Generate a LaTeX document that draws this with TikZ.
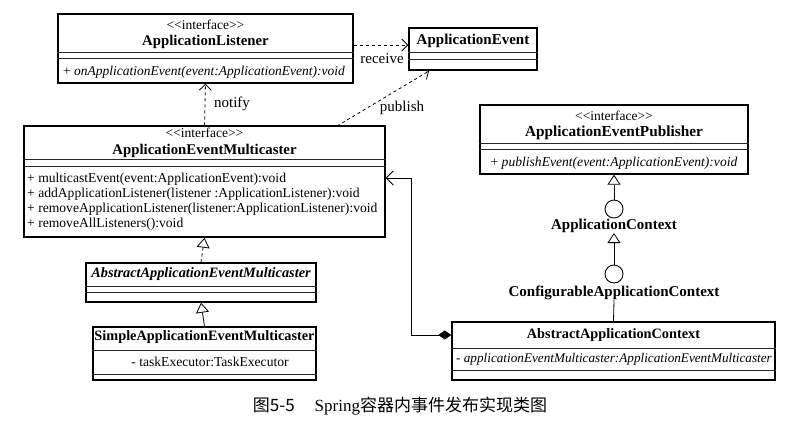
\documentclass[tikz,border=0pt]{standalone}
\usepackage{fontspec}
\setmainfont{Liberation Serif}
\newfontfamily\cjk{Noto Sans CJK SC}
\usetikzlibrary{arrows.meta, calc}
\colorlet{line-color}{black!85}
\newcommand{\stereotype}{<\kern0pt<interface>\kern0pt>}
\tikzset{
    umlbox/.style = {draw, line width=1.4pt, inner sep=0pt},
    sep/.style = {line width=0.8pt, line-color},
    stereo/.style = {inner sep=0pt, font=\fontsize{13.5}{14}\selectfont},
    clsname/.style = {inner sep=0pt, font=\fontsize{#1}{#1}\selectfont\bfseries},
    clsname/.default = 14.3,
    member/.style = {inner sep=0pt, anchor=west, font=\fontsize{#1}{#1}\selectfont},
    member/.default = 13.6,
    lbl/.style = {inner sep=0pt, font=\fontsize{15}{16}\selectfont},
    depend/.style = {line width=0.8pt, dashed, -{Straight Barb[length=6pt,width=12pt]}},
    realize/.style = {line width=0.8pt, dashed, -{Triangle[open,fill=white,length=10pt,width=13pt]}},
    extend/.style = {line width=0.8pt, -{Triangle[open,fill=white,length=10pt,width=13pt]}},
    compose/.style = {line width=0.8pt, {Diamond[length=13pt,width=9pt]}-{Straight Barb[length=7pt,width=14pt]}},
    lollipop/.style = {draw, circle, line width=0.9pt, minimum size=18pt, inner sep=0pt}
}

\begin{document}
\begin{tikzpicture}[x=1pt,y=-1pt]
\useasboundingbox (0,0) rectangle (807,429);

% ApplicationListener
\node[umlbox, minimum width=295pt, minimum height=69pt] (lis) at (205.5,48.5) {};
\node[stereo] (lis-st) at (205.5,25) {\stereotype};
\node[clsname=14.8] (lis-name) at (205.5,42) {ApplicationListener};
\draw[sep] (lis.west |- 0,52) -- (lis.east |- 0,52);
\draw[sep] (lis.west |- 0,58) -- (lis.east |- 0,58);
\node[member=13.5] (lis-op) at (63,72) {+ \textit{onApplicationEvent(event:ApplicationEvent):void}};

% ApplicationEvent
\node[umlbox, minimum width=128pt, minimum height=42pt] (evt) at (473,49) {};
\node[clsname=15] (evt-name) at (473,41) {ApplicationEvent};
\draw[sep] (evt.west |- 0,52) -- (evt.east |- 0,52);
\draw[sep] (evt.west |- 0,59) -- (evt.east |- 0,59);

% ApplicationEventMulticaster
\node[umlbox, minimum width=361pt, minimum height=111pt] (mc) at (204.5,181.5) {};
\node[stereo] (mc-st) at (204.5,133) {\stereotype};
\node[clsname=14.8] (mc-name) at (204.5,151) {ApplicationEventMulticaster};
\draw[sep] (mc.west |- 0,159) -- (mc.east |- 0,159);
\draw[sep] (mc.west |- 0,166) -- (mc.east |- 0,166);
\node[member] (mc-op1) at (27,179) {+ multicastEvent(event:ApplicationEvent):void};
\node[member] (mc-op2) at (27,194) {+ addApplicationListener(listener :ApplicationListener):void};
\node[member] (mc-op3) at (27,209) {+ removeApplicationListener(listener:ApplicationListener):void};
\node[member] (mc-op4) at (27,224) {+ removeAllListeners():void};

% AbstractApplicationEventMulticaster
\node[umlbox, minimum width=230pt, minimum height=39pt] (amc) at (201,282.5) {};
\node[clsname] (amc-name) at (201,274) {\itshape AbstractApplicationEventMulticaster};
\draw[sep] (amc.west |- 0,286) -- (amc.east |- 0,286);
\draw[sep] (amc.west |- 0,292) -- (amc.east |- 0,292);

% SimpleApplicationEventMulticaster
\node[umlbox, minimum width=223pt, minimum height=53pt] (smc) at (204.5,353.5) {};
\node[clsname] (smc-name) at (204.5,337) {SimpleApplicationEventMulticaster};
\draw[sep] (smc.west |- 0,350) -- (smc.east |- 0,350);
\node[member=13.6, anchor=center] (smc-att) at (210,362) {- taskExecutor:TaskExecutor};
\draw[sep] (smc.west |- 0,374) -- (smc.east |- 0,374);

% ApplicationEventPublisher
\node[umlbox, minimum width=268pt, minimum height=69pt] (pub) at (614,139.5) {};
\node[stereo] (pub-st) at (614,116) {\stereotype};
\node[clsname=15.3] (pub-name) at (614,133) {ApplicationEventPublisher};
\draw[sep] (pub.west |- 0,143) -- (pub.east |- 0,143);
\draw[sep] (pub.west |- 0,149) -- (pub.east |- 0,149);
\node[member=13.6, anchor=center] (pub-op) at (614,163) {+ \textit{publishEvent(event:ApplicationEvent):void}};

% ApplicationContext, ConfigurableApplicationContext
\node[lollipop] (ctx-c) at (614,209) {};
\node[clsname=15] (ctx) at (614,226) {ApplicationContext};
\node[lollipop] (cfg-c) at (614,274) {};
\node[clsname=15] (cfg) at (614,293) {ConfigurableApplicationContext};

% AbstractApplicationContext
\node[umlbox, minimum width=323pt, minimum height=58pt] (aac) at (613.5,351) {};
\node[clsname] (aac-name) at (613.5,335) {AbstractApplicationContext};
\draw[sep] (aac.west |- 0,348) -- (aac.east |- 0,348);
\node[member=13.2] (aac-att) at (456,359) {- \textit{applicationEventMulticaster:ApplicationEventMulticaster}};
\draw[sep] (aac.west |- 0,370) -- (aac.east |- 0,370);

% connectors
\draw[depend] (lis.east |- 0,45) -- (evt.west |- 0,45);
\node[lbl] (rcv) at (382,59) {receive};
\draw[depend] (mc.north) -- (lis.south);
\node[lbl] (ntf) at (232,104) {notify};
\coordinate (pub-from) at (337,126);
\coordinate (pub-to) at (429,71);
\draw[depend] (pub-from) -- (pub-to);
\node[lbl] (pbl) at (402,108) {publish};
\draw[realize] (amc.north) -- (mc.south);
\draw[extend] (smc.north) -- (amc.south);
\draw[extend] (ctx-c.north) -- (pub.south);
\draw[extend] (cfg-c.north) -- (ctx.south);
\draw[line width=0.8pt] (cfg.south) -- (aac.north);
\draw[compose] (aac.west |- aac-name) -- (411,335) -- (411,178) -- (mc.east |- 0,178);

% caption
\node[inner sep=0pt, font=\fontsize{17}{19}\selectfont] (cap) at (400,406)
    {{\cjk 图5-5}\hspace{20pt}Spring{\cjk 容器内事件发布实现类图}};
\end{tikzpicture}
\end{document}
